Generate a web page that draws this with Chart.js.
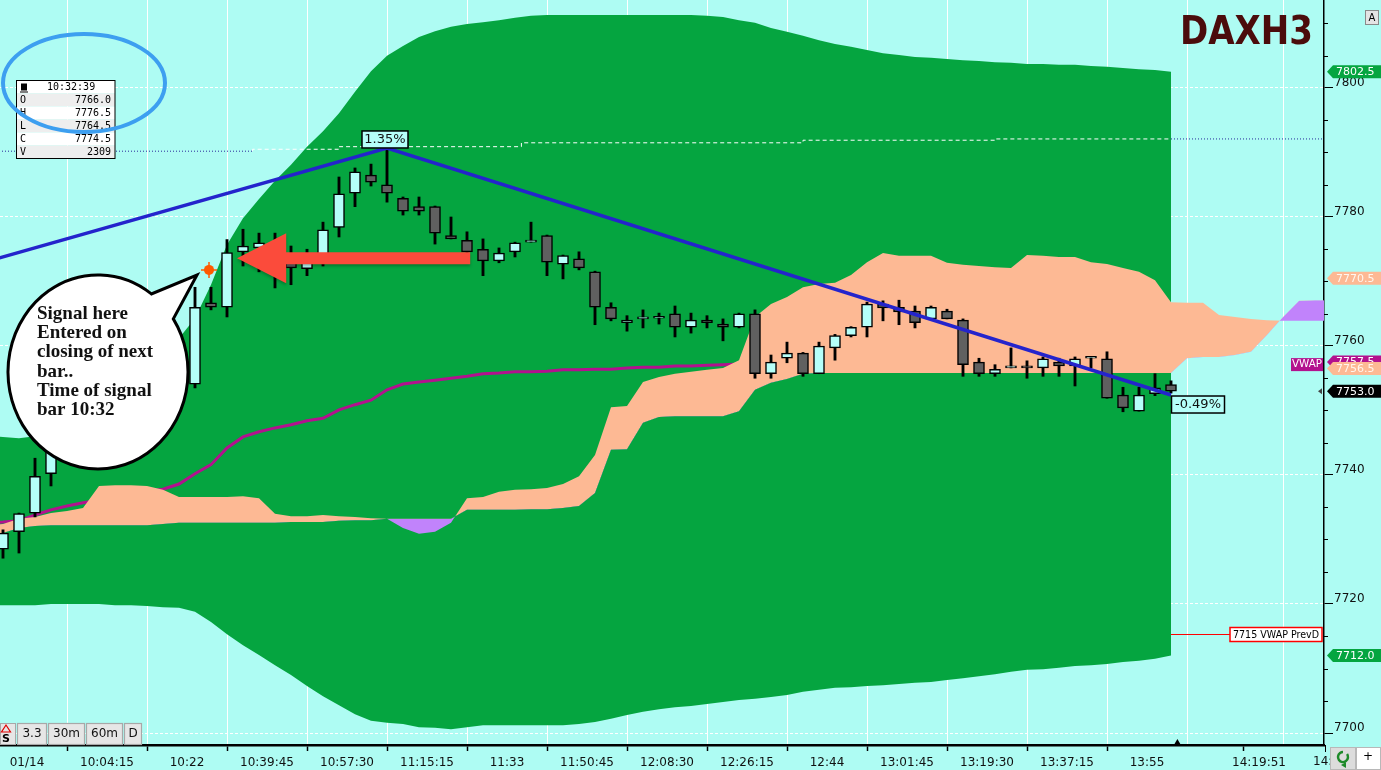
<!DOCTYPE html>
<html>
<head>
<meta charset="utf-8">
<script src="https://cdn.jsdelivr.net/npm/chart.js@4.4.1/dist/chart.umd.min.js"></script>
<style>
html,body{margin:0;padding:0;background:#aefcf3;overflow:hidden;}
canvas{display:block;}
</style>
</head>
<body>
<canvas id="c" width="1381" height="770"></canvas>
<script>
// ---------- DATA (x = 3.3-minute bar number; candles start at bar 0) ----------
const candleOpen = [7728.5,7731.2,7734.1,7740.2,7744.5,7748.0,7746.0,7750.5,7752.0,7749.5,
 7753.0,7755.0,7754.1,7766.7,7766.0,7774.6,7775.2,7774.0,7773.0,7772.0,
 7774.0,7778.4,7783.7,7786.5,7785.0,7782.9,7781.6,7781.6,7777.1,7776.4,
 7775.0,7773.2,7774.6,7776.1,7777.1,7772.7,7773.5,7771.5,7766.0,7763.6,
 7764.2,7764.3,7765.0,7762.9,7764.0,7763.4,7762.9,7765.0,7755.7,7758.1,
 7758.9,7755.7,7759.7,7761.6,7762.9,7766.5,7766.0,7765.4,7764.2,7765.4,
 7764.0,7757.5,7755.7,7756.6,7756.9,7756.6,7757.5,7756.9,7758.1,7758.0,
 7752.4,7749.9,7752.6,7754.0];
const candleHigh = [7731.5,7734.1,7742.6,7747.0,7749.0,7749.5,7751.5,7753.0,7752.5,7754.0,
 7756.0,7756.5,7769.1,7769.1,7776.5,7778.1,7777.5,7777.5,7775.5,7775.0,
 7779.2,7786.2,7787.6,7788.2,7790.7,7783.1,7783.1,7781.7,7780.0,7777.7,
 7776.6,7775.2,7776.1,7779.2,7777.2,7774.1,7774.6,7771.6,7766.7,7764.7,
 7765.6,7765.1,7766.2,7765.1,7764.7,7764.2,7765.1,7765.6,7758.6,7760.6,
 7759.0,7760.6,7761.8,7763.0,7766.8,7767.0,7767.1,7766.2,7766.2,7765.7,
 7764.2,7758.1,7757.1,7759.7,7757.7,7758.3,7758.1,7758.3,7758.4,7759.1,
 7753.6,7753.6,7755.7,7754.6];
const candleLow = [7727.1,7727.9,7733.5,7738.3,7743.0,7745.0,7745.5,7749.0,7748.5,7749.0,
 7752.0,7752.5,7753.5,7765.6,7764.5,7772.4,7771.5,7769.0,7769.5,7770.9,
 7772.4,7776.9,7781.6,7784.8,7782.3,7780.3,7780.3,7775.8,7776.6,7773.5,
 7770.9,7772.9,7773.8,7776.1,7770.9,7770.4,7771.8,7763.3,7763.9,7762.3,
 7762.8,7763.4,7761.4,7762.0,7762.8,7760.8,7762.8,7755.0,7755.0,7757.4,
 7755.3,7755.7,7757.8,7761.4,7761.4,7763.9,7763.3,7762.8,7764.2,7764.2,
 7755.3,7755.3,7755.3,7756.6,7755.0,7755.3,7755.3,7753.8,7756.6,7751.9,
 7749.8,7749.9,7752.3,7752.7];
const candleClose = [7731.0,7734.0,7739.8,7744.5,7748.0,7746.0,7750.5,7752.0,7749.5,7753.0,
 7755.0,7754.0,7766.0,7766.0,7774.5,7775.5,7776.0,7772.0,7772.1,7773.5,
 7778.0,7783.6,7787.0,7785.4,7783.7,7780.9,7780.9,7777.5,7776.6,7774.6,
 7773.2,7774.4,7776.0,7776.4,7773.0,7774.0,7772.1,7766.0,7764.2,7764.0,
 7764.5,7764.3,7762.9,7764.0,7763.6,7762.9,7765.0,7755.7,7757.5,7758.9,
 7755.7,7760.0,7761.6,7762.9,7766.5,7765.9,7765.3,7763.6,7766.0,7764.2,
 7757.1,7755.7,7756.4,7756.9,7756.6,7758.0,7756.9,7758.0,7758.4,7751.9,
 7750.4,7752.4,7753.5,7753.0];
// indicator series start one bar earlier (bar -1, at the left edge)
const indicatorStartBar = -1;
const vwap = [7732.6,7732.7,7732.9,7733.8,7734.6,7735.2,7735.7,7736.1,7736.6,7737.1,7737.5,
 7737.8,7738.6,7740.2,7741.6,7744.2,7745.9,7746.7,7747.3,7747.8,7748.4,
 7748.8,7750.1,7750.9,7751.6,7753.2,7754.1,7754.4,7754.7,7755.0,7755.3,
 7755.7,7755.8,7756.0,7756.0,7756.1,7756.3,7756.3,7756.4,7756.4,7756.6,
 7756.7,7756.7,7756.9,7756.9,7757.0,7757.1,7757.2,7757.2,7757.3,7757.3,
 7757.3,7757.3,7757.4,7757.4,7757.4,7757.4,7757.4,7757.4,7757.4,7757.4,
 7757.5,7757.5,7757.5,7757.5,7757.5,7757.5,7757.5,7757.5,7757.5,7757.5,
 7757.5,7757.5,7757.5,7757.5];
const bandUpper = [7746.0,7745.9,7745.7,7746.0,7746.7,7747.8,7749.3,7751.2,7753.2,7755.2,7757.2,
 7759.4,7761.2,7764.3,7769.5,7775.7,7779.8,7782.8,7785.6,7788.1,7790.9,
 7793.3,7796.1,7799.4,7802.6,7805.0,7806.5,7807.9,7808.8,7809.5,7809.9,
 7810.2,7810.5,7810.9,7811.2,7811.3,7811.3,7811.3,7811.3,7811.3,7811.3,
 7811.3,7811.3,7811.3,7811.3,7811.2,7811.0,7810.5,7810.1,7809.3,7808.7,
 7808.1,7807.4,7806.8,7806.4,7805.9,7805.4,7805.1,7804.8,7804.7,7804.5,
 7804.3,7804.2,7804.0,7803.9,7803.7,7803.7,7803.6,7803.6,7803.4,7803.3,
 7803.1,7802.9,7802.8,7802.5];
const bandLower = [7719.8,7719.8,7719.8,7719.8,7720.0,7720.0,7720.0,7720.0,7719.8,7719.8,7719.7,
 7719.5,7719.4,7718.8,7717.2,7715.3,7713.6,7712.1,7710.5,7709.0,7707.3,
 7705.7,7704.3,7702.9,7701.9,7701.6,7701.4,7700.9,7700.8,7700.6,7700.9,
 7701.2,7701.2,7701.2,7701.2,7701.2,7701.2,7701.4,7701.7,7702.2,7702.8,
 7703.3,7703.7,7704.0,7704.2,7704.5,7704.8,7705.1,7705.3,7705.6,7705.9,
 7706.4,7706.7,7707.0,7707.1,7707.3,7707.4,7707.6,7707.8,7707.9,7708.2,
 7708.5,7708.8,7709.1,7709.5,7709.8,7709.9,7710.1,7710.4,7710.5,7710.7,
 7711.0,7711.2,7711.5,7712.0];
const spanTop = [7732.2,7732.4,7733.2,7733.5,7734.1,7734.4,7734.9,7738.3,7738.4,7738.4,7738.3,
 7737.7,7736.6,7736.6,7736.6,7736.6,7736.7,7736.4,7734.0,7733.6,7733.6,
 7733.8,7733.6,7733.5,7733.3,7733.2,7731.8,7730.9,7731.2,7732.6,7736.4,
 7736.6,7737.4,7737.7,7737.8,7738.0,7738.6,7739.8,7743.1,7750.5,7750.7,
 7754.4,7755.2,7755.7,7756.0,7756.3,7756.6,7757.8,7764.5,7766.5,7767.6,
 7769.1,7769.6,7769.8,7771.0,7773.0,7774.4,7774.0,7774.0,7774.0,7772.9,
 7772.6,7772.4,7772.2,7772.1,7774.1,7774.0,7773.8,7773.8,7773.0,7772.7,
 7772.1,7771.5,7770.2,7766.8,7766.7,7766.7,7764.8,7764.5,7764.2,7764.0,
 7763.9,7763.9,7763.9,7763.9];
const spanBottom = [7730.4,7731.0,7731.8,7732.1,7732.2,7732.2,7732.2,7732.2,7732.2,7732.2,7732.2,
 7732.4,7732.6,7732.6,7732.6,7732.6,7732.6,7732.6,7732.6,7732.7,7732.7,
 7732.7,7732.9,7733.0,7733.0,7733.2,7733.2,7733.2,7733.2,7733.2,7734.6,
 7734.6,7734.6,7734.6,7734.7,7734.7,7734.9,7735.2,7737.2,7743.9,7744.0,
 7748.1,7749.0,7749.1,7749.1,7749.1,7749.1,7749.9,7753.2,7754.3,7754.9,
 7755.7,7755.8,7755.8,7755.8,7755.8,7755.8,7755.8,7755.8,7755.8,7755.8,
 7755.8,7755.8,7755.8,7755.8,7755.8,7755.8,7755.8,7755.8,7755.8,7755.8,
 7755.8,7755.8,7755.8,7755.8,7758.1,7758.3,7758.3,7758.6,7759.1,7761.7,
 7764.5,7767.0,7767.1,7767.1];
const trendBars = [-1, 24, 73];
const trendPrices = [7773.1, 7790.7, 7752.4];
const refLineBars = [-1, 15.6, 21, 32.4, 50, 62, 73, 84];
const refLinePrices = [7790.2, 7790.2, 7790.5, 7790.9, 7791.5, 7791.9, 7792.1, 7792.1];
const xTickPositions = [1.5,6.5,11.5,16.5,21.5,26.5,31.5,36.5,41.5,46.5,51.5,56.5,61.5,66.5,71.5,76.5,78.5,81.5];
const xTickLabels = ['01/14','10:04:15','10:22','10:39:45','10:57:30','11:15:15','11:33','11:50:45','12:08:30','12:26:15','12:44','13:01:45','13:19:30','13:37:15','13:55','','14:19:51',''];
const yTickValues = [7700,7720,7740,7760,7780,7800];
const yMinorTicks = [7705,7710,7715,7725,7730,7735,7745,7750,7755,7765,7770,7775,7785,7790,7795,7805,7810];
const yMin = 7698.14, yMax = 7813.64, xMin = -0.1875, xMax = 82.5625;
const tagValues = [7802.5, 7770.5, 7757.5, 7756.5, 7753.0, 7712.0];
const tagKinds  = ['green','orange','vwap','orange','last','green'];
const prevDayVwap = 7715;
const signalBar = {bar: 14, time: '10:32:39', open: '7766.0', high: '7776.5', low: '7764.5', close: '7774.5', volume: '2309'};
const markerBar = 12.875, markerPrice = 7771.8;
const arrowTipBar = 14.625, arrowHeadBar = 17.7, arrowTailBar = 29.2, arrowPrice = 7773.6;

// ---------- STYLE ----------
const CYAN='#aefcf3', GREEN='#05a540', ORANGE='#fdb994', PURPLE='#c183fb', MAG='#b3118e',
      BLUE='#2424cc', UPFILL='#b5fff9', DOWNFILL='#606060';
const FONT='"DejaVu Sans", sans-serif';

const pts = (arr, start) => arr.map((v, i) => ({x: start + i, y: v}));
const zip = (xs, ys) => xs.map((x, i) => ({x, y: ys[i]}));

const overlay = {
  id: 'overlay',
  beforeDraw(chart) {
    const c = chart.ctx; c.save(); c.fillStyle = CYAN; c.fillRect(0, 0, chart.width, chart.height); c.restore();
  },
  afterDraw(chart) {
    const c = chart.ctx, xs = chart.scales.x, ys = chart.scales.y, ca = chart.chartArea;
    const X = v => xs.getPixelForValue(v), Y = v => ys.getPixelForValue(v);
    c.save();
    // minor y ticks
    c.strokeStyle = '#000'; c.lineWidth = 1;
    yMinorTicks.forEach(v => { const y = Math.round(Y(v)) + 0.5; c.beginPath(); c.moveTo(ca.right, y); c.lineTo(ca.right + 4, y); c.stroke(); });

    // previous day VWAP line + label
    const yp = Math.round(Y(prevDayVwap)) - 1.5;
    c.strokeStyle = '#ff0000'; c.lineWidth = 1;
    c.beginPath(); c.moveTo(X(73), yp); c.lineTo(1230, yp); c.stroke();
    c.fillStyle = '#fff'; c.fillRect(1230, yp - 7, 92, 14);
    c.lineWidth = 1.5; c.strokeRect(1230, yp - 7, 92, 14);
    c.fillStyle = '#000'; c.font = '11px ' + FONT; c.textBaseline = 'middle'; c.textAlign = 'left';
    c.fillText('7715 VWAP PrevD', 1233, yp + 0.5, 86);

    // signal marker
    const mx = X(markerBar), my = Y(markerPrice);
    c.fillStyle = '#ff5a00'; c.beginPath(); c.arc(mx, my, 5, 0, Math.PI * 2); c.fill();
    c.strokeStyle = '#ff5a00'; c.lineWidth = 1.5;
    c.beginPath(); c.moveTo(mx - 8, my); c.lineTo(mx + 8, my); c.moveTo(mx, my - 8); c.lineTo(mx, my + 8); c.stroke();

    // red arrow
    const ay = Y(arrowPrice);
    c.save();
    c.shadowColor = 'rgba(0,0,0,0.25)'; c.shadowBlur = 3; c.shadowOffsetY = 2;
    c.fillStyle = '#fb4b3b';
    c.beginPath();
    c.moveTo(X(arrowTipBar), ay);
    c.lineTo(X(arrowHeadBar), ay - 25);
    c.lineTo(X(arrowHeadBar), ay - 6);
    c.lineTo(X(arrowTailBar), ay - 6);
    c.lineTo(X(arrowTailBar), ay + 6);
    c.lineTo(X(arrowHeadBar), ay + 6);
    c.lineTo(X(arrowHeadBar), ay + 25);
    c.closePath(); c.fill();
    c.restore();

    // percentage labels
    function pctBox(cx, top, w, txt) {
      c.fillStyle = UPFILL; c.fillRect(cx - w / 2, top, w, 17);
      c.strokeStyle = '#000'; c.lineWidth = 1.5; c.strokeRect(cx - w / 2, top, w, 17);
      c.fillStyle = '#111'; c.font = '13px ' + FONT; c.textAlign = 'center'; c.textBaseline = 'middle';
      c.fillText(txt, cx, top + 9);
    }
    pctBox(X(trendBars[1]) - 2, Y(trendPrices[1]) - 17, 46, '1.35%');
    pctBox(X(trendBars[2]) + 27, Y(trendPrices[2]) + 1, 53, '-0.49%');

    // speech bubble
    const bx = 98, by = 372, rx = 90, ry = 97;
    const a1 = Math.atan2((317 - by) / ry, (176 - bx) / rx);
    const a2 = Math.atan2((293 - by) / ry, (152 - bx) / rx) + Math.PI * 2;
    c.beginPath();
    c.ellipse(bx, by, rx, ry, 0, a1, a2, false);
    c.lineTo(197, 275);
    c.closePath();
    c.fillStyle = '#fff'; c.fill();
    c.strokeStyle = '#000'; c.lineWidth = 3; c.lineJoin = 'miter'; c.stroke();
    c.fillStyle = '#111'; c.font = 'bold 19px "Liberation Serif", serif'; c.textAlign = 'left'; c.textBaseline = 'alphabetic';
    ['Signal here', 'Entered on', 'closing of next', 'bar..', 'Time of signal', 'bar 10:32'].forEach((t, i) => c.fillText(t, 37, 319 + i * 19.2));

    // OHLC box
    const ox = 16.5, oy = 80.5, ow = 98.5, rh = 13;
    const rows = [['', signalBar.time], ['O', signalBar.open], ['H', signalBar.high], ['L', signalBar.low], ['C', signalBar.close], ['V', signalBar.volume]];
    rows.forEach((r, i) => {
      c.fillStyle = (i % 2 === 1) ? '#eeeeee' : '#ffffff';
      c.fillRect(ox, oy + i * rh, ow, rh);
    });
    c.strokeStyle = '#000'; c.lineWidth = 1; c.strokeRect(ox, oy, ow, rh * 6);
    c.fillStyle = '#000'; c.fillRect(21, oy + 3, 6, 7); c.fillRect(20, oy + 11, 8, 1);
    c.font = '10px "DejaVu Sans Mono", monospace'; c.textBaseline = 'middle';
    c.textAlign = 'left'; c.fillText(signalBar.time, 47, oy + 7);
    rows.slice(1).forEach((r, i) => {
      const yy = oy + (i + 1) * rh + 7;
      c.textAlign = 'left'; c.fillText(r[0], 20, yy);
      c.textAlign = 'right'; c.fillText(r[1], 111, yy);
    });
    c.strokeStyle = '#3d9ff0'; c.lineWidth = 4;
    c.beginPath(); c.ellipse(84, 83, 81, 49, 0, 0, Math.PI * 2); c.stroke();

    // title
    c.fillStyle = '#4b0c0c'; c.font = 'bold 39px ' + FONT; c.textAlign = 'left'; c.textBaseline = 'alphabetic';
    c.fillText('DAXH3', 1180, 44, 133);
    // "A" button
    c.fillStyle = '#e4e4e4'; c.fillRect(1365.5, 10.5, 13, 14);
    c.strokeStyle = '#8a8a8a'; c.lineWidth = 1; c.strokeRect(1365.5, 10.5, 13, 14);
    c.fillStyle = '#000'; c.font = '10px ' + FONT; c.textAlign = 'center'; c.textBaseline = 'middle'; c.fillText('A', 1372, 18);

    // price tags on the right
    const tagStyle = {green: [GREEN, '#ffffff'], orange: [ORANGE, '#fff6ee'], vwap: [MAG, '#ffffff'], last: ['#000000', '#ffffff']};
    tagValues.forEach((v, i) => {
      const [bg, fg] = tagStyle[tagKinds[i]];
      const y = Y(v);
      c.fillStyle = bg;
      c.beginPath(); c.moveTo(1327, y); c.lineTo(1333, y - 6.5); c.lineTo(1381, y - 6.5); c.lineTo(1381, y + 6.5); c.lineTo(1333, y + 6.5); c.closePath(); c.fill();
      c.fillStyle = fg; c.font = '11px ' + FONT; c.textAlign = 'left'; c.textBaseline = 'middle';
      c.fillText(v.toFixed(1), 1336, y + 0.5);
      if (tagKinds[i] === 'vwap') {
        c.fillStyle = MAG; c.fillRect(1291, y - 4, 32, 13);
        c.fillStyle = '#fff'; c.font = '11px ' + FONT; c.fillText('VWAP', 1292, y + 2.5, 30);
      }
      if (tagKinds[i] === 'last') {
        c.fillStyle = '#444'; c.beginPath(); c.moveTo(1318, y); c.lineTo(1322, y - 3); c.lineTo(1322, y + 3); c.closePath(); c.fill();
      }
    });

    // current bar marker on time axis
    const tx = X(73.4);
    c.fillStyle = '#000'; c.beginPath(); c.moveTo(tx, ca.bottom - 6); c.lineTo(tx - 3.5, ca.bottom); c.lineTo(tx + 3.5, ca.bottom); c.closePath(); c.fill();

    // truncated future label "14:"
    c.strokeStyle = '#000'; c.lineWidth = 1; c.beginPath(); c.moveTo(1325.5, ca.bottom); c.lineTo(1325.5, ca.bottom + 7); c.stroke();
    c.fillStyle = '#111'; c.font = '12px ' + FONT; c.textAlign = 'left'; c.textBaseline = 'middle';
    c.fillText('14:', 1313, 762);
    // bottom-right controls
    c.fillStyle = '#dcdcdc'; c.fillRect(1330, 747, 26, 23);
    c.fillStyle = '#ffffff'; c.fillRect(1356, 747, 25, 23);
    c.strokeStyle = '#b8b8b8'; c.lineWidth = 1; c.strokeRect(1330.5, 747.5, 25, 22); c.strokeRect(1356.5, 747.5, 24, 22);
    c.strokeStyle = '#1e8a2a'; c.lineWidth = 2.5;
    c.beginPath(); c.arc(1343, 757, 5, -Math.PI * 0.2, Math.PI * 1.5); c.stroke();
    c.fillStyle = '#1e8a2a'; c.beginPath(); c.moveTo(1341, 765); c.lineTo(1346, 762); c.lineTo(1346, 768); c.closePath(); c.fill();
    c.fillStyle = '#000'; c.font = '12px ' + FONT; c.textAlign = 'center'; c.fillText('+', 1368, 757);

    // bottom-left interval buttons
    const btns = [['3.3', 17, 30], ['30m', 48, 37], ['60m', 86, 37], ['D', 124, 18]];
    c.fillStyle = '#e6e6e6'; c.fillRect(0, 723, 16, 22);
    c.strokeStyle = '#a8a8a8'; c.lineWidth = 1; c.strokeRect(0.5, 723.5, 15, 21);
    c.strokeStyle = '#e00000'; c.lineWidth = 1.2;
    c.beginPath(); c.moveTo(6, 725); c.lineTo(1.5, 732); c.lineTo(10.5, 732); c.closePath(); c.stroke();
    c.fillStyle = '#000'; c.font = 'bold 11px ' + FONT; c.textAlign = 'center'; c.textBaseline = 'middle'; c.fillText('S', 6, 739);
    btns.forEach(([t, x, w]) => {
      c.fillStyle = '#e6e6e6'; c.fillRect(x, 723, w, 22);
      c.strokeStyle = '#a8a8a8'; c.strokeRect(x + 0.5, 723.5, w - 1, 21);
      c.fillStyle = '#111'; c.font = '12px ' + FONT; c.textAlign = 'center'; c.fillText(t, x + w / 2, 734);
    });
    c.restore();
  }
};

const candleColors = candleClose.map((cl, i) => cl >= candleOpen[i] ? UPFILL : DOWNFILL);

new Chart(document.getElementById('c'), {
  type: 'line',
  data: {
    datasets: [
      {label: 'bandUpper', data: pts(bandUpper, indicatorStartBar), borderWidth: 0, borderColor: 'transparent', pointRadius: 0, fill: 1, backgroundColor: GREEN, order: 20, tension: 0},
      {label: 'bandLower', data: pts(bandLower, indicatorStartBar), borderWidth: 0, borderColor: 'transparent', pointRadius: 0, fill: false, order: 19, tension: 0},
      {label: 'VWAP', data: pts(vwap, indicatorStartBar), borderWidth: 3, borderColor: MAG, pointRadius: 0, fill: false, order: 15, tension: 0},
      {label: 'spanTop', data: pts(spanTop, indicatorStartBar), borderWidth: 0, borderColor: 'transparent', pointRadius: 0, fill: {target: 4, above: ORANGE, below: PURPLE}, order: 12, tension: 0},
      {label: 'spanBottom', data: pts(spanBottom, indicatorStartBar), borderWidth: 0, borderColor: 'transparent', pointRadius: 0, fill: false, order: 11, tension: 0},
      {label: 'refLine', data: zip(refLineBars, refLinePrices), borderWidth: 1, pointRadius: 0, fill: false, order: 10, stepped: 'after',
        segment: {
          borderColor: ctx => (ctx.p0.parsed.x < 15.6 || ctx.p0.parsed.x >= 73) ? '#2a2a9a' : '#ffffff',
          borderDash: ctx => (ctx.p0.parsed.x < 15.6 || ctx.p0.parsed.x >= 73) ? [1, 2] : [4, 3]
        }},
      {type: 'bar', label: 'wicks', data: candleLow.map((l, i) => ({x: i, y: [l, candleHigh[i]]})), backgroundColor: '#000', barThickness: 2.2, grouped: false, order: 8},
      {type: 'bar', label: 'bodies', data: candleOpen.map((o, i) => ({x: i, y: [o, candleClose[i]]})), backgroundColor: candleColors,
        borderColor: '#000', borderWidth: 1.5, borderSkipped: false, barThickness: 11, minBarLength: 2, grouped: false, order: 7},
      {label: 'trend', data: zip(trendBars, trendPrices), borderWidth: 3.5, borderColor: BLUE, pointRadius: 0, fill: false, order: 5, tension: 0}
    ]
  },
  options: {
    responsive: false, devicePixelRatio: 1, animation: false, events: [],
    layout: {padding: 0},
    plugins: {legend: {display: false}, tooltip: {enabled: false}, title: {display: false}},
    scales: {
      x: {
        type: 'linear', min: xMin, max: xMax, offset: false,
        afterBuildTicks: s => { s.ticks = xTickPositions.map(v => ({value: v})); },
        afterFit: s => { s.height = 25; s.paddingLeft = 0; s.paddingRight = 0; },
        ticks: {autoSkip: false, maxRotation: 0, minRotation: 0, padding: 5, color: '#111', font: {family: 'DejaVu Sans', size: 12},
          callback: (v, i) => xTickLabels[i]},
        grid: {
          color: ctx => (ctx.tick && ctx.tick.value === 78.5) ? 'rgba(0,0,0,0)' : '#ffffff',
          lineWidth: 1, tickLength: 6, tickWidth: 1.5,
          tickColor: ctx => (ctx.index !== undefined && xTickLabels[ctx.index]) ? '#000' : 'rgba(0,0,0,0)'
        },
        border: {display: true, color: '#000', width: 2.5}
      },
      y: {
        type: 'linear', position: 'right', min: yMin, max: yMax,
        afterBuildTicks: s => { s.ticks = yTickValues.map(v => ({value: v})); },
        afterFit: s => { s.width = 57; s.paddingTop = 0; s.paddingBottom = 0; },
        ticks: {padding: 1, labelOffset: -5, color: '#111', font: {family: 'DejaVu Sans', size: 12}, callback: v => String(v)},
        grid: {color: '#ffffff', lineWidth: 1, tickLength: 9, tickColor: '#000', tickWidth: 1},
        border: {display: true, color: '#000', width: 1.5, dash: [3, 2]}
      }
    }
  },
  plugins: [overlay]
});
</script>
</body>
</html>
